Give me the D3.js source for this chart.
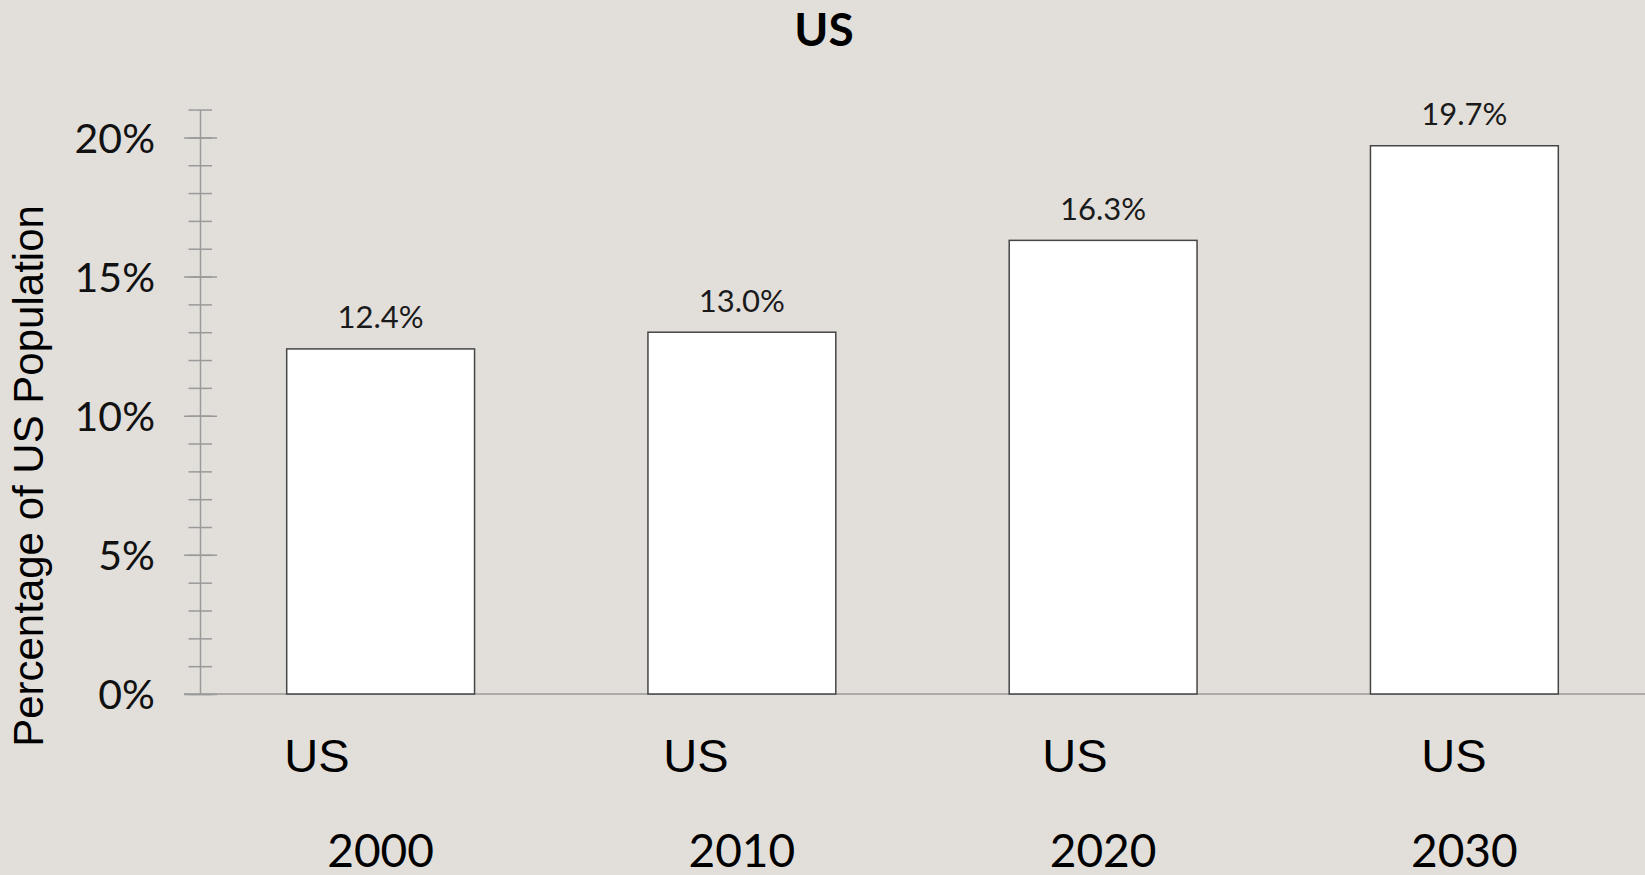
<!DOCTYPE html>
<html>
<head>
<meta charset="utf-8">
<script src="https://cdn.jsdelivr.net/npm/d3@7"></script>
<style>
    html, body { margin: 0; padding: 0; background: #e2dfda; }
    svg { display: block; }
</style>
</head>
<body>
<div id="chart"></div>
<script>
/*
    Data
*/
const regions = ["US", "US", "US", "US"];
const years = ["2000", "2010", "2020", "2030"];
const shares = [12.4, 13.0, 16.3, 19.7];
const majorTicks = [0, 5, 10, 15, 20];
const minorTicks = d3.range(0, 22);

function main() {
    // Define Meta
    const width = 1645;
    const height = 875;
    const left = 200;
    const baseY = 694;

    const svg = d3.select("#chart")
        .append("svg")
        .attr("width", width)
        .attr("height", height);

    const xScale = d3.scaleBand()
        .domain(years)
        .range([left, width])
        .paddingInner(0.48)
        .paddingOuter(0.24);
    // The region row in the original sits on its own, slightly wider spacing
    const regionScale = d3.scalePoint()
        .domain(years)
        .range([317, 1454]);
    const yScale = d3.scaleLinear()
        .domain([0, 21])
        .range([baseY, baseY - 21 * 27.83]);

    // Title
    svg.append("text")
        .attr("x", 824)
        .attr("y", 46)
        .attr("text-anchor", "middle")
        .style("font-family", "Lato")
        .style("font-weight", "bold")
        .style("font-size", "46px")
        .style("fill", "#000")
        .text("US");

    // Minor ticks + axis line
    const minor = svg.append("g")
        .attr("transform", `translate(${left}, 0)`)
        .call(d3.axisLeft(yScale).tickValues(minorTicks).tickSizeOuter(0).tickFormat(""));
    minor.select(".domain").attr("stroke", "#9a9a9a").attr("stroke-width", 1.5);
    minor.selectAll(".tick line")
        .attr("x1", -11.5).attr("x2", 12)
        .attr("stroke", "#9a9a9a").attr("stroke-width", 1.5);

    // Major ticks + labels
    const major = svg.append("g")
        .attr("transform", `translate(${left}, 0)`)
        .call(d3.axisLeft(yScale).tickValues(majorTicks).tickFormat(d => d + "%"));
    major.select(".domain").remove();
    major.selectAll(".tick line")
        .attr("x1", -16).attr("x2", 17)
        .attr("stroke", "#9a9a9a").attr("stroke-width", 1.5);
    major.selectAll(".tick text")
        .attr("x", -45)
        .attr("dy", "0.36em")
        .style("font-family", "Lato")
        .style("font-size", "41px")
        .style("fill", "#111");

    // Baseline
    svg.append("line")
        .attr("x1", left - 16).attr("x2", width)
        .attr("y1", yScale(0)).attr("y2", yScale(0))
        .attr("stroke", "#9a9a9a").attr("stroke-width", 1.5);

    // Bars
    const data = years.map((y, i) => ({ year: y, region: regions[i], value: shares[i] }));
    svg.selectAll(".bar")
        .data(data)
        .enter()
        .append("rect")
        .attr("class", "bar")
        .attr("x", d => xScale(d.year))
        .attr("y", d => yScale(d.value))
        .attr("width", xScale.bandwidth())
        .attr("height", d => yScale(0) - yScale(d.value))
        .attr("fill", "#fff")
        .attr("stroke", "#454545")
        .attr("stroke-width", 1.5);

    // Value labels
    svg.selectAll(".val")
        .data(data)
        .enter()
        .append("text")
        .attr("class", "val")
        .attr("x", d => xScale(d.year) + xScale.bandwidth() / 2)
        .attr("y", d => yScale(d.value) - 20.5)
        .attr("text-anchor", "middle")
        .style("font-family", "Lato")
        .style("font-size", "31px")
        .style("fill", "#1a1a1a")
        .text(d => d.value.toFixed(1) + "%");

    // Category labels (region line, then year line)
    svg.selectAll(".reg")
        .data(data)
        .enter()
        .append("text")
        .attr("class", "reg")
        .attr("x", d => regionScale(d.year))
        .attr("y", 772)
        .attr("text-anchor", "middle")
        .style("font-family", "Liberation Sans, Arial, sans-serif")
        .style("font-size", "47px")
        .style("fill", "#000")
        .text(d => d.region);
    svg.selectAll(".yr")
        .data(data)
        .enter()
        .append("text")
        .attr("class", "yr")
        .attr("x", d => xScale(d.year) + xScale.bandwidth() / 2)
        .attr("y", 867)
        .attr("text-anchor", "middle")
        .style("font-family", "Lato")
        .style("font-size", "46px")
        .style("fill", "#000")
        .text(d => d.year);

    // Y axis title
    svg.append("text")
        .attr("transform", `translate(43, 476) rotate(-90)`)
        .attr("text-anchor", "middle")
        .style("font-family", "Liberation Sans, Arial, sans-serif")
        .style("font-size", "42px")
        .style("fill", "#000")
        .text("Percentage of US Population");
}

main()
</script>
</body>
</html>
